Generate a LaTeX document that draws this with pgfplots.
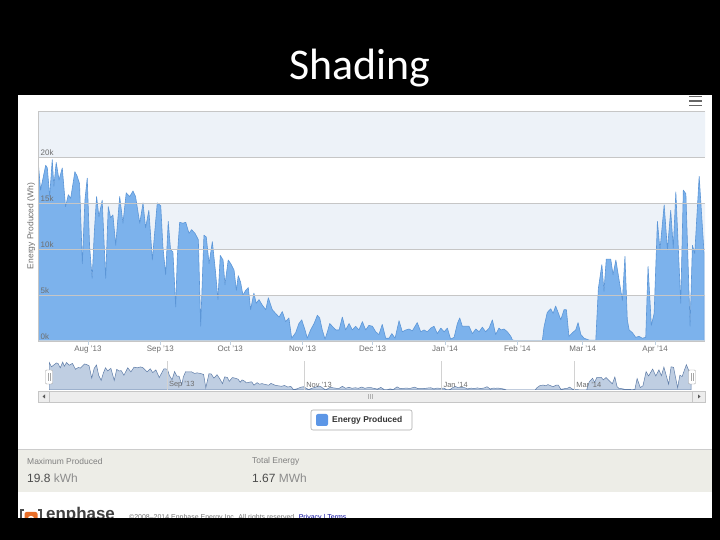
\documentclass[border=0pt]{standalone}
\usepackage{pgfplots}
\pgfplotsset{compat=1.18}
\usepackage{pgfplotstable}
\usepackage{fontspec}
\setmainfont{Liberation Sans}
\newfontfamily\titlefont{Carlito}
\definecolor{band}{RGB}{237,242,248}
\definecolor{gridc}{RGB}{198,198,198}
\definecolor{areafill}{RGB}{124,178,236}
\definecolor{arealine}{RGB}{92,150,215}
\definecolor{axisc}{RGB}{192,208,224}
\definecolor{labc}{RGB}{110,110,110}
\definecolor{navfill}{RGB}{180,198,222}
\definecolor{navline}{RGB}{95,125,168}
\definecolor{panel}{RGB}{237,237,231}
\definecolor{legblue}{RGB}{92,150,230}
\definecolor{enorange}{RGB}{232,110,40}

% day 0 = 1 Aug 2013, value in Wh
\pgfplotstableread{
x y
-21.4 19750
-20.3 16400
-18.1 19100
-17.4 18800
-16.4 15700
-15.3 19700
-14.6 16800
-13.6 19400
-12.4 17500
-11.0 18800
-9.6 14600
-8.4 15900
-7.4 15500
-5.6 18400
-4.6 17900
-3.6 17100
-2.4 8400
-1.3 15300
-0.3 17700
0.7 10300
1.8 6800
2.7 11700
3.7 15700
4.7 13500
6.1 15300
7.6 6800
8.7 14600
9.7 13400
10.7 13700
11.9 10400
13.6 15700
15.0 12800
16.4 16100
17.9 15700
19.3 16300
20.4 15700
22.2 12800
23.6 15000
24.7 12300
26.1 14200
27.6 8800
28.7 12100
29.7 15000
31.2 14700
32.1 10300
33.3 7200
34.4 13000
35.4 9900
36.4 9700
37.6 3700
38.3 9200
39.3 12900
40.7 12800
41.9 12900
43.3 11700
44.4 12100
45.9 11700
47.3 11000
48.3 1600
49.7 11500
50.7 11300
51.9 8400
53.3 10800
54.7 7400
55.7 4500
56.7 9300
57.9 8800
58.7 6100
60.1 8800
61.2 8400
62.6 7700
63.6 5500
64.4 7100
65.4 6400
66.4 5000
67.6 5500
68.7 5800
69.7 3400
71.1 5200
72.1 4100
73.3 4500
74.7 3900
76.2 3400
77.3 4700
79.0 3400
80.4 3000
81.9 2600
83.3 3200
84.7 2100
86.1 2500
87.3 300
89.0 900
90.4 1900
91.6 2300
93.0 1200
94.0 300
95.4 1200
96.9 1900
98.3 2800
99.3 2500
100.4 1200
101.6 200
102.6 1000
103.6 1900
104.7 1600
106.2 1200
107.6 1200
109.0 2600
110.4 1200
111.9 1900
113.3 1200
114.7 1600
116.1 1200
117.6 2100
119.0 1200
120.4 1700
121.9 1600
123.3 1000
124.7 700
126.1 1800
127.6 300
129.0 300
130.2 800
131.6 300
133.3 2200
134.7 1000
136.2 1200
137.6 1300
139.0 1100
141.1 2000
142.6 1000
144.0 1200
145.4 1000
146.9 1400
148.3 1600
149.7 800
151.2 1400
152.6 1000
154.0 1400
155.4 200
156.9 400
158.3 1900
159.3 2500
160.4 1600
161.9 1600
163.3 1600
164.7 800
166.2 1300
167.6 1000
169.0 1500
170.4 1000
171.9 1400
173.3 2300
174.7 700
176.1 1400
176.9 1200
178.3 1300
179.7 1000
181.2 500
181.9 100
183.3 50
186.0 50
189.0 50
192.0 50
194.7 50
195.4 1500
196.8 3100
198.3 3500
199.3 3000
200.4 3800
201.6 3000
202.6 2300
204.0 3400
205.0 3400
206.1 500
207.6 900
209.0 1200
210.0 2000
211.2 700
212.6 300
214.7 100
217.6 100
218.7 5700
220.2 8300
221.1 5400
222.1 8900
224.0 8900
225.0 7200
226.2 8800
227.6 6600
229.0 4400
230.1 9200
231.1 2300
231.9 1200
233.3 900
234.7 400
236.1 500
237.6 300
239.0 400
240.0 8100
241.4 1700
242.6 3000
244.0 13000
245.1 9900
246.9 14800
248.3 9900
249.7 14200
250.8 10100
251.9 16200
254.0 4100
255.1 16400
256.2 16000
258.0 1600
259.0 10400
260.0 9500
261.9 17900
264.0 9500
}\energy

\begin{document}
\begin{tikzpicture}[x=1bp,y=1bp]
% slide background and screenshot area
\fill[black] (0,0) rectangle (720,540);
\fill[white] (18,22) rectangle (712,445);
\node[font=\titlefont\fontsize{44}{44}\selectfont, text=white] at (360,472) {Shading};
% menu icon
\draw[black!60, line width=1.6bp] (689,443.5)--(702,443.5) (689,439)--(702,439) (689,434.5)--(702,434.5);

% main chart
\begin{axis}[
  at={(38bp,199bp)}, anchor=south west, scale only axis,
  width=667bp, height=230bp,
  xmin=-21.4, xmax=264.4, ymin=0, ymax=25000,
  scaled y ticks=false,
  axis on top,
  separate axis lines,
  axis x line*=bottom, axis y line*=left,
  x axis line style={draw=axisc, line width=1bp, -},
  y axis line style={draw=gridc, line width=0.5bp, -},
  xtick={0,31,61,92,122,153,184,212,243},
  xticklabels={Aug '13,Sep '13,Oct '13,Nov '13,Dec '13,Jan '14,Feb '14,Mar '14,Apr '14},
  ytick={0,5000,10000,15000,20000,25000},
  yticklabels={0k,5k,10k,15k,20k,{}},
  ymajorgrids, grid style={gridc, line width=0.7bp},
  tick align=outside, major tick length=4bp,
  x tick style={draw=axisc, line width=0.8bp},
  y tick style={draw=none},
  tick label style={font=\fontsize{8}{9}\selectfont, text=labc},
  xticklabel style={inner sep=1bp},
  yticklabel style={anchor=south west, inner sep=1.5bp, xshift=5bp},
  ylabel={Energy Produced (Wh)},
  ylabel style={at={(axis description cs:-0.004,0.5)}, anchor=south, inner sep=0pt, font=\fontsize{8.5}{9}\selectfont, text=labc},
]
\addplot[draw=none, fill=band, forget plot] coordinates {(-30,0) (300,0) (300,5000) (-30,5000)} -- cycle;
\addplot[draw=none, fill=band, forget plot] coordinates {(-30,10000) (300,10000) (300,15000) (-30,15000)} -- cycle;
\addplot[draw=none, fill=band, forget plot] coordinates {(-30,20000) (300,20000) (300,25000) (-30,25000)} -- cycle;
\addplot[fill=areafill, draw=arealine, line width=0.6bp, line join=round] table[x=x,y=y] {\energy} \closedcycle;
\end{axis}

% navigator
\begin{axis}[
  at={(49bp,150bp)}, anchor=south west, scale only axis,
  width=643bp, height=29bp,
  xmin=-21.4, xmax=264.4, ymin=0, ymax=20500,
  axis on top,
  axis line style={draw=none},
  xtick={31,92,153,212},
  xticklabels={Sep '13,Nov '13,Jan '14,Mar '14},
  ytick=\empty,
  xmajorgrids, grid style={gray!35, line width=0.6bp},
  tick style={draw=none},
  xticklabel style={anchor=south west, inner sep=1bp, xshift=1bp, yshift=1bp, font=\fontsize{7.5}{8}\selectfont, text=labc},
]
\addplot[fill=navfill, fill opacity=0.85, draw=navline, line width=0.5bp] table[x=x,y=y] {\energy} \closedcycle;
\end{axis}
% navigator handles
\foreach \hx in {49,692} {
  \draw[fill=white, draw=gray!70, rounded corners=1bp] (\hx-3.5,156) rectangle (\hx+3.5,170);
  \draw[gray!70, line width=0.4bp] (\hx-1,159) -- (\hx-1,167) (\hx+1,159) -- (\hx+1,167);
}
% scrollbar
\draw[fill=gray!6, draw=gray!45, line width=0.5bp] (38,138) rectangle (705,149);
\draw[fill=gray!14, draw=gray!45, line width=0.5bp] (49,138) rectangle (692,149);
\draw[fill=gray!14, draw=gray!45, line width=0.5bp] (38,138) rectangle (49,149);
\draw[fill=gray!14, draw=gray!45, line width=0.5bp] (692,138) rectangle (705,149);
\fill[gray!70!black] (42.5,143.5) -- (45,141.5) -- (45,145.5) -- cycle;
\fill[gray!70!black] (700.5,143.5) -- (698,141.5) -- (698,145.5) -- cycle;
\draw[gray!60, line width=0.5bp] (368.5,141) -- (368.5,146) (370.5,141) -- (370.5,146) (372.5,141) -- (372.5,146);

% legend
\draw[rounded corners=2bp, draw=gray!65, fill=white, line width=0.6bp] (311,110) rectangle (412,130);
\fill[legblue, rounded corners=2bp] (316,114) rectangle (328,126);
\node[anchor=west, inner sep=0pt, font=\fontsize{8.5}{9}\selectfont\bfseries, text=black!80] at (332,120) {Energy Produced};

% statistics panel
\fill[panel] (18,48) rectangle (712,91);
\draw[gray!40, line width=0.6bp] (18,91) -- (712,91);
\node[anchor=west, inner sep=0pt, font=\fontsize{8.5}{9}\selectfont, text=black!50] at (27,79) {Maximum Produced};
\node[anchor=west, inner sep=0pt, font=\fontsize{8.5}{9}\selectfont, text=black!50] at (252,79) {Total Energy};
\node[anchor=west, inner sep=0pt, font=\fontsize{12}{13}\selectfont, text=black!70] at (27,62) {19.8 \textcolor{black!45}{kWh}};
\node[anchor=west, inner sep=0pt, font=\fontsize{12}{13}\selectfont, text=black!70] at (252,62) {1.67 \textcolor{black!45}{MWh}};

% footer
\draw[black!70, line width=1.6bp] (24,30) -- (21,30) -- (21,14) (38,30) -- (41,30) -- (41,14);
\fill[enorange, rounded corners=2bp] (24.5,14) rectangle (37.5,28);
\fill[white] (31,21) circle (3.2bp);
\fill[enorange] (31,21) circle (1.6bp);
\node[anchor=base west, inner sep=0pt, font=\fontsize{17}{17}\selectfont\bfseries, text=black!75] at (46,20.5) {enphase};
\node[anchor=base west, inner sep=0pt, font=\fontsize{7}{8}\selectfont, text=black!55] at (129,20.5) {\textcopyright 2008--2014 Enphase Energy Inc. All rights reserved. \textcolor{blue!60!black}{Privacy | Terms}};
\fill[black] (0,0) rectangle (720,22);
\fill[black] (0,0) rectangle (18,540);
\fill[black] (712,0) rectangle (720,540);
\end{tikzpicture}
\end{document}
